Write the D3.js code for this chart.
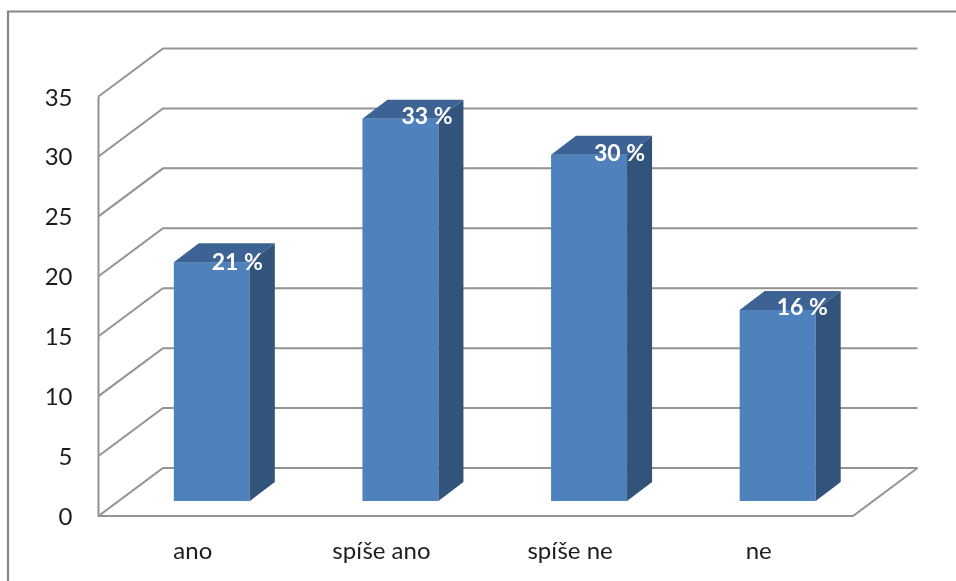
<!DOCTYPE html>
<html><head><meta charset="utf-8">
<script src="https://cdnjs.cloudflare.com/ajax/libs/d3/7.9.0/d3.min.js"></script>
<style>html,body{margin:0;padding:0;background:#fff;overflow:hidden}svg{display:block}text{font-family:Lato,"Open Sans",sans-serif}</style>
</head><body><script>
const categories = ["ano","spíše ano","spíše ne","ne"];
const values = [20,32,29,16];
const percentLabels = ["21 %","33 %","30 %","16 %"];
const yTicks = [0,5,10,15,20,25,30,35];

const W=956,H=581;
const svg=d3.select("body").append("svg").attr("width",W).attr("height",H);
const defs=svg.append("defs");
defs.append("filter").attr("id","soft").append("feGaussianBlur").attr("stdDeviation",0.5);
const root=svg.append("g").attr("filter","url(#soft)");

const x=d3.scaleBand().domain(categories).range([98.5,853]);
const y=d3.scaleLinear().domain([0,35]).range([516,96.5]);
const dx=64.5, dy=-48;
const barW=76, barDx=25, barDy=-19, barBase=15;
const grid="#939393";
// hand-placed data labels in the original sit slightly off a common anchor
const labelShift={"ano":[0,0],"spíše ano":[1,-3],"spíše ne":[5,-2],"ne":[-1,-3]};

// chart frame
root.append("path").attr("d",`M8,581V11.5H956`).attr("fill","none").attr("stroke","#868686").attr("stroke-width",2.2);

// walls
const axisG=root.append("g").attr("fill","none").attr("stroke",grid).attr("stroke-width",2);
axisG.selectAll("path.g").data(yTicks).join("path").attr("class","g")
  .attr("d",d=>`M${x.range()[0]},${y(d)}L${x.range()[0]+dx},${y(d)+dy}H${x.range()[1]+dx}`);
axisG.append("path").attr("d",`M${x.range()[0]},${y(35)}V${y(0)}H${x.range()[1]}L${x.range()[1]+dx},${y(0)+dy}`);

// y tick labels
root.append("g").selectAll("text").data(yTicks).join("text")
  .attr("x",72.5).attr("y",d=>y(d)+9).attr("text-anchor","end")
  .attr("font-size",24).attr("fill","#1e1e1e").text(d=>d);

// category labels
root.append("g").selectAll("text").data(categories).join("text")
  .attr("x",d=>x(d)+x.bandwidth()/2).attr("y",558.5).attr("text-anchor","middle")
  .attr("font-size",24).attr("fill","#1e1e1e").text(d=>d);

// bars
const h=d3.scaleLinear().domain([0,35]).range([0,418]);
const rows=categories.map((c,i)=>({c,v:values[i],p:percentLabels[i]}));
const bar=root.append("g").selectAll("g").data(rows).join("g")
  .attr("transform",d=>`translate(${x(d.c)+x.bandwidth()/2-barW/2+barDx/2+6.5},${y(0)-barBase})`);
bar.append("rect").attr("x",0).attr("width",barW).attr("y",d=>-h(d.v)).attr("height",d=>h(d.v)).attr("fill","#4f81bd");
bar.append("path").attr("fill","#31527a")
  .attr("d",d=>`M${barW},0V${-h(d.v)}l${barDx},${barDy}V${barDy}Z`);
bar.append("path").attr("fill","#3c6495")
  .attr("d",d=>`M0,${-h(d.v)}l${barDx},${barDy}H${barW+barDx}l${-barDx},${-barDy}Z`);
bar.append("text").attr("x",d=>63.5+labelShift[d.c][0]).attr("y",d=>-h(d.v)+8+labelShift[d.c][1]).attr("text-anchor","middle")
  .attr("font-size",23).attr("font-weight",700).attr("fill","#fff").text(d=>d.p);
</script></body></html>
